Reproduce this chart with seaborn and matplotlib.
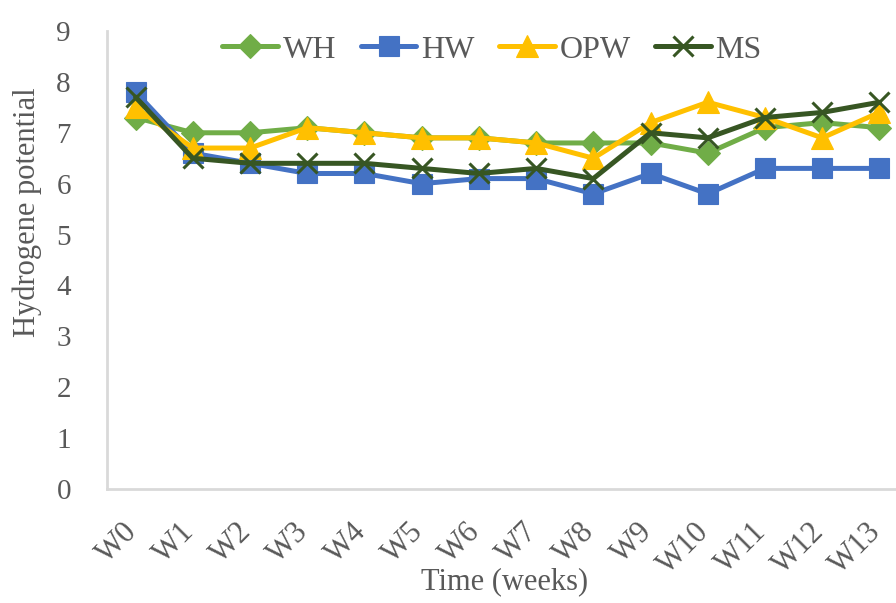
import matplotlib
matplotlib.use("Agg")
import matplotlib.pyplot as plt
import matplotlib.transforms as mtransforms
import seaborn as sns
import pandas as pd

weeks = ["W0", "W1", "W2", "W3", "W4", "W5", "W6", "W7", "W8", "W9", "W10", "W11", "W12", "W13"]
wh = [7.3, 7.0, 7.0, 7.1, 7.0, 6.9, 6.9, 6.8, 6.8, 6.8, 6.6, 7.1, 7.2, 7.1]
hw = [7.8, 6.6, 6.4, 6.2, 6.2, 6.0, 6.1, 6.1, 5.8, 6.2, 5.8, 6.3, 6.3, 6.3]
opw = [7.5, 6.7, 6.7, 7.1, 7.0, 6.9, 6.9, 6.8, 6.5, 7.2, 7.6, 7.3, 6.9, 7.4]
ms = [7.7, 6.5, 6.4, 6.4, 6.4, 6.3, 6.2, 6.3, 6.1, 7.0, 6.9, 7.3, 7.4, 7.6]

series = {"WH": wh, "HW": hw, "OPW": opw, "MS": ms}
colors = {"WH": "#70AD47", "HW": "#4472C4", "OPW": "#FFC000", "MS": "#375623"}
markers = {"WH": "D", "HW": "s", "OPW": "^", "MS": "x"}
msizes = {"WH": 12, "HW": 14, "OPW": 16, "MS": 14}

rows = []
for name, vals in series.items():
    for i, v in enumerate(vals):
        rows.append({"week": i, "pH": v, "sample": name})
df = pd.DataFrame(rows)

sns.set_style("white")
plt.rcParams["font.family"] = ["Liberation Serif", "DejaVu Serif"]
text_color = "#595959"

fig = plt.figure(figsize=(8.96, 6.03), dpi=100)
ax = fig.add_axes([107 / 896, 1 - 489 / 603, 801 / 896, 458 / 603])

for name in series:
    sub = df[df["sample"] == name]
    sns.lineplot(
        data=sub, x="week", y="pH", ax=ax, color=colors[name],
        marker=markers[name], markersize=msizes[name], linewidth=3.6,
        markeredgecolor=colors[name], markeredgewidth=2.2 if name == "MS" else 0.8,
        label=name, legend=False,
    )

ax.set_xlim(-0.5, len(weeks) - 0.5)
ax.set_ylim(0, 9)
ax.set_xticks(range(len(weeks)))
ax.set_xticklabels(weeks, rotation=45, ha="right", va="center", rotation_mode="anchor")
ax.set_yticks(range(0, 10))
ax.tick_params(axis="both", length=0, labelcolor=text_color)
ax.tick_params(axis="y", pad=26, labelsize=21)
ax.tick_params(axis="x", pad=28, labelsize=22)
shift = mtransforms.ScaledTranslation(-3 / 100, 0, fig.dpi_scale_trans)
for lbl in ax.get_xticklabels():
    lbl.set_transform(lbl.get_transform() + shift)

for side in ("top", "right"):
    ax.spines[side].set_visible(False)
for side in ("left", "bottom"):
    ax.spines[side].set_color("#D9D9D9")
    ax.spines[side].set_linewidth(2)

ax.set_xlabel("Time (weeks)", fontsize=22, color=text_color)
ax.set_ylabel("Hydrogene potential", fontsize=22, color=text_color)
ax.xaxis.set_label_coords((505 - 107) / 801, -(567 - 489) / 458)
ax.yaxis.set_label_coords(-(107 - 42) / 801, (489 - 212) / 458)

handles, labels = ax.get_legend_handles_labels()
fig.legend(handles, labels, loc="center", bbox_to_anchor=(492 / 896, 1 - 50 / 603),
           ncol=4, frameon=False, fontsize=23, handlelength=1.75,
           handletextpad=0.15, columnspacing=0.75, labelcolor=text_color)

fig.savefig("out.png", dpi=100)
